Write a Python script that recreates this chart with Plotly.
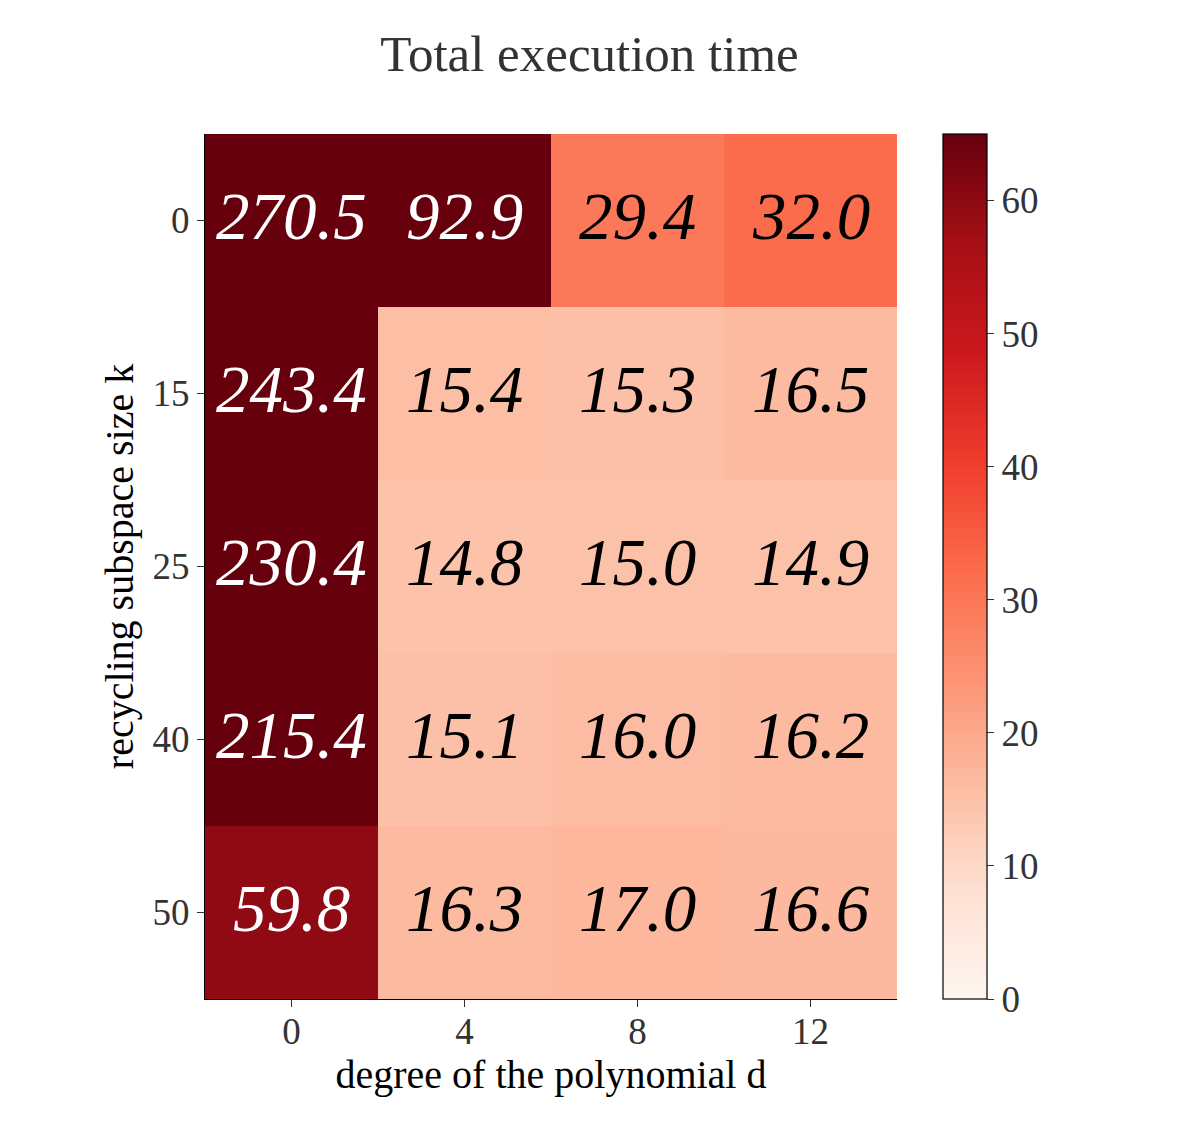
import plotly.graph_objects as go

degrees = ["0", "4", "8", "12"]
subspace = ["0", "15", "25", "40", "50"]
times = [
    [270.5, 92.9, 29.4, 32.0],
    [243.4, 15.4, 15.3, 16.5],
    [230.4, 14.8, 15.0, 14.9],
    [215.4, 15.1, 16.0, 16.2],
    [59.8, 16.3, 17.0, 16.6],
]
zmax = 65
FONT = "Liberation Serif"
TICK = 37

fig = go.Figure()
fig.add_trace(go.Heatmap(
    x=degrees, y=subspace, z=times,
    colorscale="Reds", zmin=0, zmax=zmax,
    colorbar=dict(
        thickness=44, len=1, lenmode="fraction", y=0.5, yanchor="middle",
        x=1.0665, xanchor="left", xpad=0, ypad=0,
        outlinewidth=1.2, outlinecolor="black",
        ticks="outside", ticklen=7, tickwidth=1.2, tickcolor="#333",
        tickvals=[0, 10, 20, 30, 40, 50, 60],
        tickfont=dict(family=FONT, size=TICK, color="#333"),
    ),
    hoverinfo="skip",
))

annotations = []
for i, row in enumerate(times):
    for j, v in enumerate(row):
        # category axes: annotation positions are category indices
        annotations.append(dict(
            x=j, y=i, text=f"<i>{v:.1f}</i>", showarrow=False, yshift=5,
            font=dict(family=FONT, size=67, color="white" if v > 40 else "black"),
            xref="x", yref="y",
        ))

fig.update_layout(
    width=1204, height=1124,
    margin=dict(l=197, r=315, t=126, b=133),
    plot_bgcolor="white", paper_bgcolor="white",
    title=dict(text="Total execution time", x=0.483, xanchor="center", y=0.96, yanchor="middle",
               font=dict(family=FONT, size=51, color="#333")),
    annotations=annotations,
    xaxis=dict(
        type="category",
        title=dict(text="degree of the polynomial d", font=dict(family=FONT, size=40, color="black"), standoff=4),
        tickfont=dict(family=FONT, size=TICK, color="#333"),
        ticks="outside", ticklen=7, tickwidth=1.2, tickcolor="#333", ticklabelstandoff=-8,
        showline=True, linecolor="black", linewidth=1.2, showgrid=False, zeroline=False,
    ),
    yaxis=dict(
        type="category",
        title=dict(text="recycling subspace size k", font=dict(family=FONT, size=40, color="black"), standoff=6),
        tickfont=dict(family=FONT, size=TICK, color="#333"),
        ticks="outside", ticklen=7, tickwidth=1.2, tickcolor="#333",
        autorange="reversed",
        showline=True, linecolor="black", linewidth=1.2, showgrid=False, zeroline=False,
    ),
)

fig.write_html("out.html")
